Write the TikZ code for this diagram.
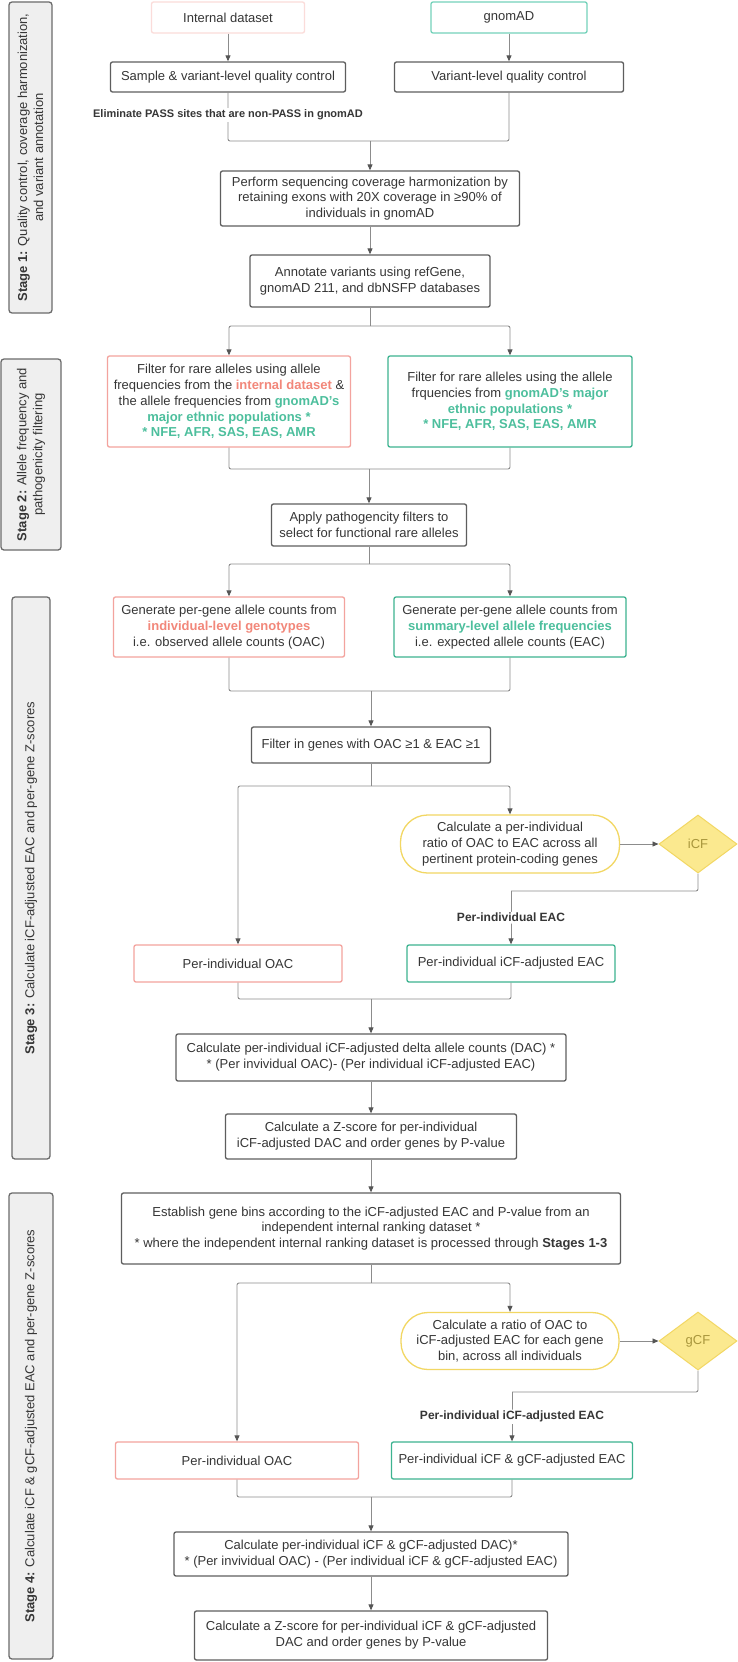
\documentclass[tikz,border=0pt]{standalone}
\usepackage{fontspec}
\setmainfont{Liberation Sans}
\usetikzlibrary{arrows.meta,shapes.geometric}

\definecolor{txt}{HTML}{363636}
\definecolor{boxgrey}{HTML}{5E5E5E}
\definecolor{pinkline}{HTML}{F3A39E}
\definecolor{pinkpale}{HTML}{FBDCDA}
\definecolor{tealline}{HTML}{3DB390}
\definecolor{tealpale}{HTML}{74D2BA}
\definecolor{salmontxt}{HTML}{F2877A}
\definecolor{tealtxt}{HTML}{4DBF9D}
\definecolor{yelline}{HTML}{F2D763}
\definecolor{yelfill}{HTML}{FBE98F}
\definecolor{factortxt}{HTML}{A8963C}
\definecolor{stagefill}{HTML}{EFEFEF}
\definecolor{stageline}{HTML}{6B6B6B}
\definecolor{linkgrey}{HTML}{8C8C8C}
\definecolor{tipgrey}{HTML}{555555}

\newcommand{\inttxt}[1]{\textcolor{salmontxt}{\bfseries #1}}
\newcommand{\gnomtxt}[1]{\textcolor{tealtxt}{\bfseries #1}}

\begin{document}
\begin{tikzpicture}
    [x=1pt,y=-1pt,
     every node/.style={align=center,inner sep=0pt,text=txt,font=\fontsize{13}{15.8}\selectfont},
     wh/.style 2 args={minimum width=#1pt,minimum height=#2pt},
     box/.style={draw=boxgrey,line width=1.3pt,rounded corners=2pt},
     obs/.style={draw=pinkline,line width=1.3pt,rounded corners=2pt},
     expd/.style={draw=tealline,line width=1.3pt,rounded corners=2pt},
     calc/.style={draw=yelline,line width=1.3pt,rounded corners=27pt},
     factor/.style={diamond,draw=yelline,fill=yelfill,line width=1pt,text=factortxt,aspect=1.35,minimum width=78pt,minimum height=58pt},
     stage/.style={draw=stageline,fill=stagefill,line width=1.3pt,rounded corners=3pt,rotate=90},
     link/.style={draw=linkgrey,line width=0.9pt,rounded corners=2pt},
     flow/.style={link,-{Triangle[length=6pt,width=5pt,color=tipgrey]}},
     lbl/.style={fill=white,inner sep=1.5pt,font=\fontsize{12}{14}\selectfont\bfseries}]
    \path[use as bounding box,fill=white] (0,0) rectangle (738,1662);

    \node[stage,wh={311}{43}] (stgone) at (30.5,157.5) {\textbf{Stage 1:} Quality control, coverage harmonization,\\and variant annotation};
    \node[stage,wh={191}{60}] (stgtwo) at (31,454.5) {\textbf{Stage 2:} Allele frequency and\\pathogenicity filtering};
    \node[stage,wh={562}{38}] (stgthree) at (31,878) {\textbf{Stage 3:} Calculate iCF-adjusted EAC and per-gene Z-scores};
    \node[stage,wh={466}{44}] (stgfour) at (31,1426) {\textbf{Stage 4:} Calculate iCF \& gCF-adjusted EAC and per-gene Z-scores};

    \node[obs,draw=pinkpale,wh={153}{31}] (internal) at (228,17.5) {Internal dataset};
    \node[expd,draw=tealpale,wh={156}{31}] (gnomad) at (509,17.5) {gnomAD};
    \node[box,wh={235}{30}] (sampleqc) at (228,77) {Sample \& variant-level quality control};
    \node[box,wh={229}{30}] (variantqc) at (509,77) {Variant-level quality control};
    \node[box,wh={299}{55}] (harmon) at (370,198.5) {Perform sequencing coverage harmonization by\\retaining exons with 20X coverage in ≥90\% of\\individuals in gnomAD};
    \node[box,wh={240}{52}] (annot) at (370,281) {Annotate variants using refGene,\\gnomAD 211, and dbNSFP databases};
    \node[obs,wh={243}{91}] (filtint) at (229,401.5) {Filter for rare alleles using allele\\frequencies from the \inttxt{internal dataset} \&\\the allele frequencies from \gnomtxt{gnomAD's}\\\gnomtxt{major ethnic populations *}\\\gnomtxt{* NFE, AFR, SAS, EAS, AMR}};
    \node[expd,wh={244}{91}] (filtgno) at (510,401.5) {Filter for rare alleles using the allele\\frquencies from \gnomtxt{gnomAD's major}\\\gnomtxt{ethnic populations *}\\\gnomtxt{* NFE, AFR, SAS, EAS, AMR}};
    \node[box,wh={195}{42}] (patho) at (369,525) {Apply pathogencity filters to\\select for functional rare alleles};
    \node[obs,wh={231}{60}] (genobs) at (229,627) {Generate per-gene allele counts from\\\inttxt{individual-level genotypes}\\i.e. observed allele counts (OAC)};
    \node[expd,wh={232}{60}] (genexp) at (510,627) {Generate per-gene allele counts from\\\gnomtxt{summary-level allele frequencies}\\i.e. expected allele counts (EAC)};
    \node[box,wh={239}{36}] (keep) at (371,745) {Filter in genes with OAC ≥1 \& EAC ≥1};
    \node[calc,wh={219}{58}] (ratioi) at (510,844) {Calculate a per-individual\\ratio of OAC to EAC across all\\pertinent protein-coding genes};
    \node[factor] (icf) at (698,844) {iCF};
    \node[obs,wh={208}{37}] (oaci) at (238,963.5) {Per-individual OAC};
    \node[expd,wh={208}{37}] (eaci) at (511,963.5) {Per-individual iCF-adjusted EAC};
    \node[box,wh={390}{47}] (daci) at (371,1057.5) {Calculate per-individual iCF-adjusted delta allele counts (DAC) *\\* (Per invividual OAC)- (Per individual iCF-adjusted EAC)};
    \node[box,wh={291}{45}] (zi) at (371,1136.5) {Calculate a Z-score for per-individual\\iCF-adjusted DAC and order genes by P-value};
    \node[box,wh={499}{71}] (bins) at (371,1228.5) {Establish gene bins according to the iCF-adjusted EAC and P-value from an\\independent internal ranking dataset *\\* where the independent internal ranking dataset is processed through \textbf{Stages 1-3}};
    \node[calc,wh={218}{57}] (ratiog) at (510,1341) {Calculate a ratio of OAC to\\iCF-adjusted EAC for each gene\\bin, across all individuals};
    \node[factor] (gcf) at (698,1341) {gCF};
    \node[obs,wh={243}{37}] (oacg) at (237,1460.5) {Per-individual OAC};
    \node[expd,wh={241}{37}] (eacg) at (512,1460.5) {Per-individual iCF \& gCF-adjusted EAC};
    \node[box,wh={394}{44}] (dacg) at (371,1554) {Calculate per-individual iCF \& gCF-adjusted DAC)*\\* (Per invividual OAC) - (Per individual iCF \& gCF-adjusted EAC)};
    \node[box,wh={353}{49}] (zg) at (371,1635.5) {Calculate a Z-score for per-individual iCF \& gCF-adjusted\\DAC and order genes by P-value};

    \coordinate (qcjoin) at (370,141);
    \coordinate (annsplit) at (370,326);
    \coordinate (filtjoin) at (369,469);
    \coordinate (pathsplit) at (369,564);
    \coordinate (genjoin) at (371,691);
    \coordinate (keepsplit) at (371,786);
    \coordinate (icfturn) at (511,891);
    \coordinate (oacjoin) at (371,999);
    \coordinate (binsplit) at (371,1283);
    \coordinate (gcfturn) at (512,1392);
    \coordinate (oacgjoin) at (371,1497);

    \draw[flow] (internal) -- (sampleqc);
    \draw[flow] (gnomad) -- (variantqc);
    \draw[link] (sampleqc.south) |- (qcjoin);
    \draw[link] (variantqc.south) |- (qcjoin);
    \draw[flow] (qcjoin) -- (harmon.north);
    \node[lbl,font=\fontsize{11}{13}\selectfont\bfseries] (elim) at (228,115) {Eliminate PASS sites that are non-PASS in gnomAD};
    \draw[flow] (harmon) -- (annot);
    \draw[link] (annot.south) -- (annsplit);
    \draw[flow] (annsplit) -| (filtint.north);
    \draw[flow] (annsplit) -| (filtgno.north);
    \draw[link] (filtint.south) |- (filtjoin);
    \draw[link] (filtgno.south) |- (filtjoin);
    \draw[flow] (filtjoin) -- (patho.north);
    \draw[link] (patho.south) -- (pathsplit);
    \draw[flow] (pathsplit) -| (genobs.north);
    \draw[flow] (pathsplit) -| (genexp.north);
    \draw[link] (genobs.south) |- (genjoin);
    \draw[link] (genexp.south) |- (genjoin);
    \draw[flow] (genjoin) -- (keep.north);
    \draw[link] (keep.south) -- (keepsplit);
    \draw[flow] (keepsplit) -| (oaci.north);
    \draw[flow] (keepsplit) -| (ratioi.north);
    \draw[flow] (ratioi) -- (icf);
    \draw[link] (icf.south) |- (icfturn);
    \draw[flow] (icfturn) -- node[lbl] (eaclbl) {Per-individual EAC} (icfturn |- eaci.north);
    \draw[link] (oaci.south) |- (oacjoin);
    \draw[link] (eaci.south) |- (oacjoin);
    \draw[flow] (oacjoin) -- (daci.north);
    \draw[flow] (daci) -- (zi);
    \draw[flow] (zi) -- (bins);
    \draw[link] (bins.south) -- (binsplit);
    \draw[flow] (binsplit) -| (oacg.north);
    \draw[flow] (binsplit) -| (ratiog.north);
    \draw[flow] (ratiog) -- (gcf);
    \draw[link] (gcf.south) |- (gcfturn);
    \draw[flow] (gcfturn) -- node[lbl] (gcflbl) {Per-individual iCF-adjusted EAC} (gcfturn |- eacg.north);
    \draw[link] (oacg.south) |- (oacgjoin);
    \draw[link] (eacg.south) |- (oacgjoin);
    \draw[flow] (oacgjoin) -- (dacg.north);
    \draw[flow] (dacg) -- (zg);
  \end{tikzpicture}
\end{document}
